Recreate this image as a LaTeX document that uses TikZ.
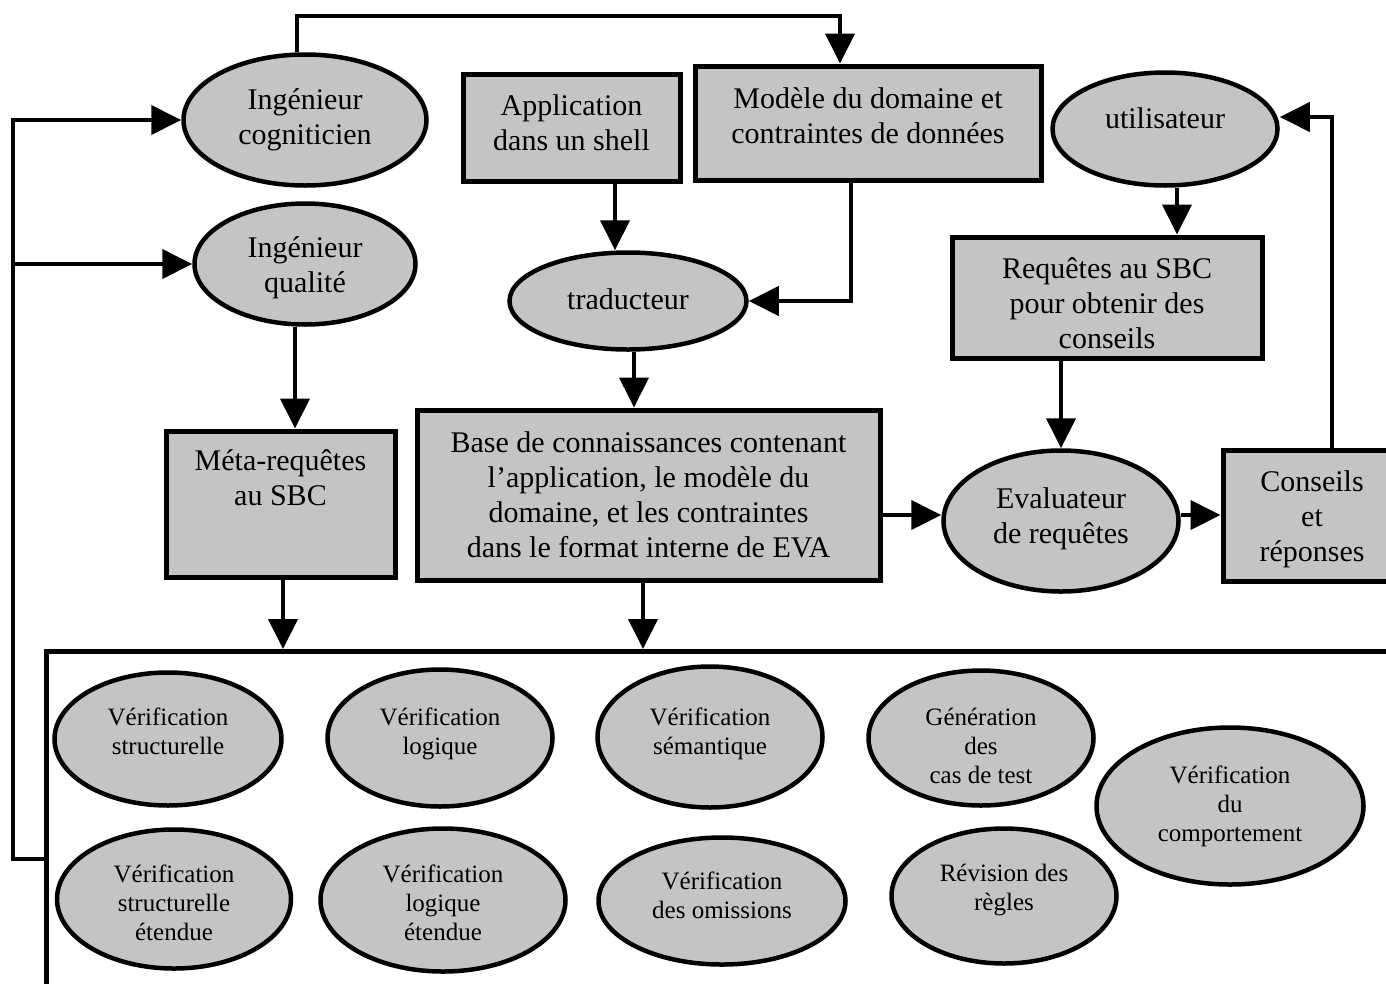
\documentclass[tikz,border=0pt]{standalone}
\usepackage{fontspec}
\setmainfont{Liberation Serif}
\usetikzlibrary{arrows.meta,shapes.geometric}
\definecolor{shade}{RGB}{196,196,196}
\begin{document}
\begin{tikzpicture}[x=1pt,y=-1pt,
  big/.style={font=\fontsize{30}{35}\selectfont, align=center, inner sep=0pt},
  small/.style={font=\fontsize{25}{29}\selectfont, align=center, inner sep=0pt},
  box/.style={draw, line width=5pt, fill=shade, rectangle, inner sep=0pt},
  oval/.style={draw, line width=4.5pt, fill=shade, ellipse, inner sep=0pt},
  link/.style={line width=4pt},
  arr/.style={link, -{Triangle[length=30pt,width=29pt]}}]
\clip (0,0) rectangle (1386,983);
\fill[white] (0,0) rectangle (1386,983);

% frame holding the verification tools
\node[draw, line width=4.5pt, minimum width=1400pt, minimum height=400pt,
      anchor=north west, inner sep=0pt] (checks) at (44,649) {};

% upper part: shapes
\node[oval, minimum width=243pt, minimum height=131pt] (cog) at (305,120) {};
\node[oval, minimum width=221pt, minimum height=121pt] (qual) at (305,264) {};
\node[box, minimum width=217pt, minimum height=107pt] (app) at (571.5,127.5) {};
\node[box, minimum width=346pt, minimum height=114pt] (model) at (868,123) {};
\node[oval, minimum width=225pt, minimum height=113pt] (util) at (1165,129) {};
\node[oval, minimum width=237pt, minimum height=97pt] (trad) at (628,301) {};
\node[box, minimum width=310pt, minimum height=121pt] (req) at (1107,297.5) {};
\node[box, minimum width=229pt, minimum height=146pt] (meta) at (280.5,504) {};
\node[box, minimum width=463pt, minimum height=170pt] (base) at (648.5,495) {};
\node[oval, minimum width=235pt, minimum height=141pt] (eval) at (1061,521) {};
\node[box, minimum width=178pt, minimum height=131pt] (cons) at (1312,515.5) {};

% upper part: texts
\node[big] (cog-t) at (cog) {Ingénieur\\cogniticien};
\node[big, yshift=-4pt] (qual-t) at (qual) {Ingénieur\\qualité};
\node[big, yshift=5pt] (app-t) at (app) {Application\\dans un shell};
\node[big, yshift=7pt] (model-t) at (model) {Modèle du domaine et\\contraintes de données};
\node[big, yshift=11pt] (util-t) at (util) {utilisateur};
\node[big, yshift=2pt] (trad-t) at (trad) {traducteur};
\node[big, yshift=-6pt] (req-t) at (req) {Requêtes au SBC\\pour obtenir des\\conseils};
\node[big, anchor=north] (meta-t) at (280.5,449) {Méta-requêtes\\au SBC};
\node[big] (base-t) at (base) {Base de connaissances contenant\\l’application, le modèle du\\domaine, et les contraintes\\dans le format interne de EVA};
\node[big, yshift=2pt] (eval-t) at (eval) {Evaluateur\\de requêtes};
\node[big, yshift=-4pt] (cons-t) at (cons) {Conseils\\et\\réponses};

% verification tools: shapes
\node[oval, minimum width=227pt, minimum height=133pt] (vs) at (168,739) {};
\node[oval, minimum width=225pt, minimum height=137pt] (vl) at (440,738) {};
\node[oval, minimum width=225pt, minimum height=141pt] (vsem) at (710,737) {};
\node[oval, minimum width=225pt, minimum height=135pt] (gen) at (981,738) {};
\node[oval, minimum width=267pt, minimum height=157pt] (comp) at (1230,806) {};
\node[oval, minimum width=234pt, minimum height=139pt] (vse) at (174,899) {};
\node[oval, minimum width=245pt, minimum height=143pt] (vle) at (443,900) {};
\node[oval, minimum width=247pt, minimum height=127pt] (vo) at (722,901) {};
\node[oval, minimum width=225pt, minimum height=135pt] (rev) at (1004,896) {};

% verification tools: texts
\node[small, yshift=8pt] (vs-t) at (vs) {Vérification\\structurelle};
\node[small, yshift=4pt] (vl-t) at (vl) {Vérification\\logique};
\node[small, yshift=3pt] (vsem-t) at (vsem) {Vérification\\sémantique};
\node[small, yshift=-8pt] (gen-t) at (gen) {Génération\\des\\cas de test};
\node[small] (comp-t) at (comp) {Vérification\\du\\comportement};
\node[small, yshift=-4pt] (vse-t) at (vse) {Vérification\\structurelle\\étendue};
\node[small, yshift=-3pt] (vle-t) at (vle) {Vérification\\logique\\étendue};
\node[small, yshift=6pt] (vo-t) at (vo) {Vérification\\des omissions};
\node[small, yshift=6pt] (rev-t) at (rev) {Révision des\\règles};

% helper positions for the connectors
\coordinate (cx) at (297,0);
\coordinate (topbend) at (840,16);
\coordinate (mx) at (851,0);
\coordinate (ax) at (615,0);
\coordinate (tx) at (634,0);
\coordinate (ux) at (1177,0);
\coordinate (uy) at (0,117);
\coordinate (rx) at (1332,0);
\coordinate (qx) at (295,0);
\coordinate (mbx) at (283,0);
\coordinate (bbx) at (643,0);
\coordinate (ey) at (0,515);
\coordinate (fb) at (44,859);
\coordinate (fbc) at (13,859);

% connectors
\draw[arr] (cog.north -| cx) |- (topbend) -- (topbend |- model.north);
\draw[arr] (model.south -| mx) |- (trad.east);
\draw[arr] (app.south -| ax) -- (trad.north -| ax);
\draw[arr] (trad.south -| tx) -- (base.north -| tx);
\draw[arr] (util.south -| ux) -- (req.north -| ux);
\draw[arr] (req.south -| eval.north) -- (eval.north);
\draw[arr] (cons.north -| rx) |- (util.east |- uy);
\draw[arr] (base.east |- ey) -- (eval.west |- ey);
\draw[arr] (eval.east |- ey) -- (cons.west |- ey);
\draw[arr] (qual.south -| qx) -- (meta.north -| qx);
\draw[arr] (meta.south -| mbx) -- (checks.north -| mbx);
\draw[arr] (base.south -| bbx) -- (checks.north -| bbx);
\draw[arr] (fb) -- (fbc) |- (cog.west);
\draw[arr] (fbc |- qual.west) -- (qual.west);
\end{tikzpicture}
\end{document}
